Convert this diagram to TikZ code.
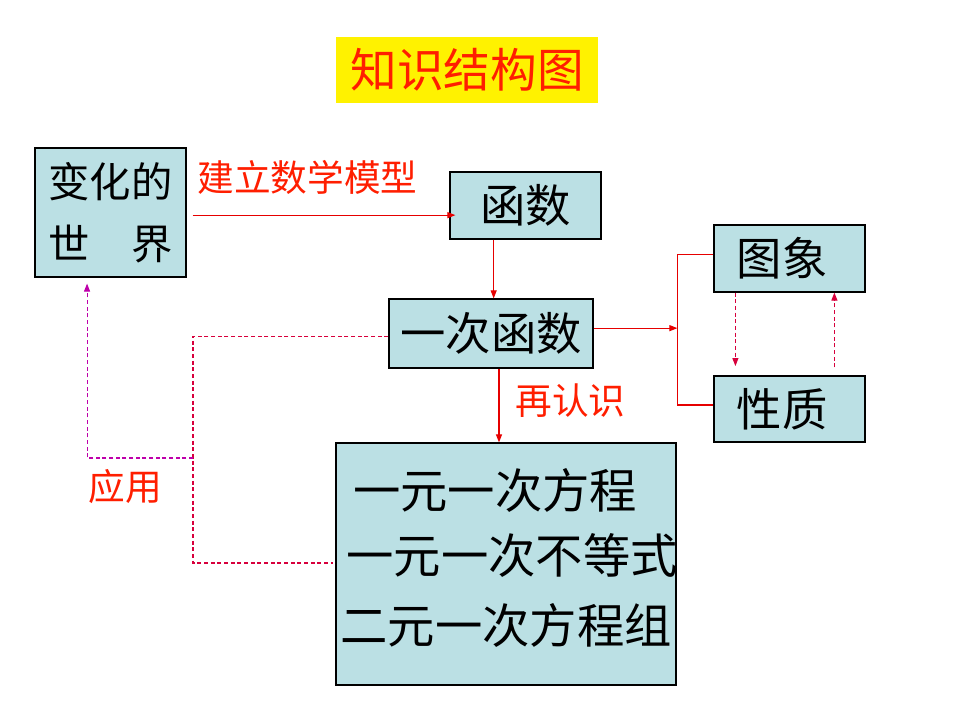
\documentclass[tikz,border=0pt]{standalone}
\usepackage{fontspec}
\newfontfamily\cjk{Noto Sans CJK SC}
\usetikzlibrary{arrows.meta,calc}
\definecolor{boxfill}{RGB}{187,224,228}
\definecolor{lnred}{RGB}{230,0,0}
\definecolor{txtred}{RGB}{255,30,0}
\definecolor{dashred}{RGB}{215,0,60}
\definecolor{dashmag}{RGB}{190,0,170}
\tikzset{
  box/.style={draw=black, line width=0.9pt, fill=boxfill, inner sep=0pt},
  bigtxt/.style={font=\cjk\fontsize{34pt}{40pt}\selectfont, text=black, inner sep=0pt},
  linetxt/.style={font=\cjk\fontsize{35.5pt}{40pt}\selectfont, text=black, inner sep=0pt},
  redlbl/.style={font=\cjk\fontsize{27.5pt}{32pt}\selectfont, text=txtred, inner sep=0pt},
  conn/.style={draw=lnred, line width=0.8pt},
  arr/.style={conn, -{Triangle[length=6pt,width=4.5pt]}},
  dashconn/.style={draw=dashred, line width=0.8pt, dash pattern=on 3pt off 2pt},
  dasharr/.style={dashconn, -{Triangle[length=6pt,width=4.5pt]}}
}
\begin{document}
\begin{tikzpicture}[x=0.75pt,y=-0.75pt]
\path[use as bounding box, fill=white] (0,0) rectangle (960,720);

% title
\node[fill=yellow, minimum width=196.5pt, minimum height=49.5pt, inner sep=0pt,
      font=\cjk\fontsize{35pt}{40pt}\selectfont, text=txtred] (title) at (467,70) {知识结构图};

% boxes
\node[box, minimum width=113.25pt, minimum height=96.75pt] (world) at (110.5,212.5) {};
\node[bigtxt, align=center, font=\cjk\fontsize{31pt}{46.5pt}\selectfont] (worldtxt) at (world.center) {变化的\\世　界};

\node[box, bigtxt, draw=black, fill=boxfill, minimum width=113.25pt, minimum height=50.25pt] (func) at (525.5,205.5) {函数};
\node[box, bigtxt, draw=black, fill=boxfill, minimum width=153pt, minimum height=51.75pt] (linear) at (491,333.5) {一次函数};
\node[box, minimum width=113.25pt, minimum height=50.25pt] (graph) at (789.5,258.5) {};
\node[bigtxt] (graphtxt) at (782,258.5) {图象};
\node[box, minimum width=113.25pt, minimum height=49.5pt] (prop) at (789.5,409) {};
\node[bigtxt] (proptxt) at (782,409) {性质};

\node[box, minimum width=255pt, minimum height=181.5pt] (big) at (506,564) {};
\node[linetxt] (l1) at (495,490) {一元一次方程};
\node[linetxt] (l2) at (512,555) {一元一次不等式};
\node[linetxt] (l3) at (506,625) {二元一次方程组};

% labels
\node[redlbl] (lblmodel) at (307.5,177) {建立数学模型};
\node[redlbl] (lblre) at (570.5,401) {再认识};
\node[redlbl] (lbluse) at (125,487) {应用};

% solid connectors
\draw[arr] ([xshift=4.5pt,yshift=-2pt]world.east) -- ([xshift=4.5pt,yshift=-2pt]world.east -| func.west);
\draw[arr] ([xshift=2pt]func.south -| linear.north) -- ([xshift=2pt]linear.north);
\draw[arr] ([xshift=6pt]linear.south) -- ([xshift=6pt]linear.south |- big.north);
\coordinate (jr) at ([xshift=-27pt,yshift=4pt]graph.west |- linear.east);
\draw[arr] ([yshift=4pt]linear.east) -- (jr);
\draw[conn] ([yshift=3pt]graph.west) -- ++(-27pt,0) |- ([yshift=3pt]prop.west);

% dashed between graph and prop
\draw[dasharr, shorten >=7pt] ([xshift=16.5pt]graph.south west) -- ([xshift=16.5pt]graph.south west |- prop.north);
\draw[dasharr, shorten <=6pt] ([xshift=90.75pt]prop.north west) -- ([xshift=90.75pt]prop.north west |- graph.south);

% dashed application connectors
\coordinate (jl) at (193,458);
\draw[dashconn] ([yshift=-2pt]linear.west) -| (jl) |- ([xshift=-2pt,yshift=0.75pt]big.west);
\draw[dasharr, draw=dashmag, shorten >=4.5pt] (jl) -| ([xshift=-17.6pt]world.south);
\end{tikzpicture}
\end{document}
